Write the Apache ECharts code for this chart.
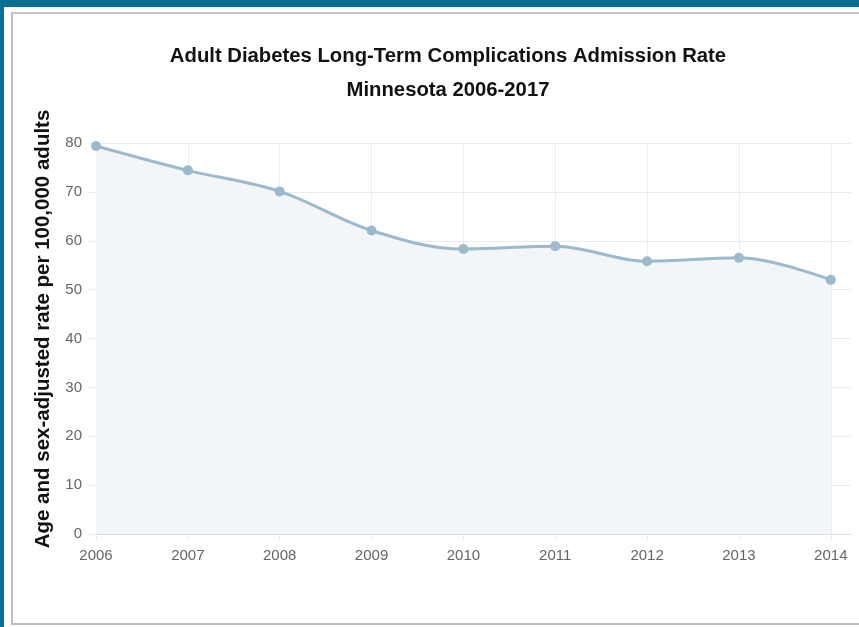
<!DOCTYPE html>
<html>
<head>
<meta charset="utf-8">
<script src="https://cdn.jsdelivr.net/npm/echarts@6/dist/echarts.min.js"></script>
<style>
  html, body { margin: 0; padding: 0; width: 859px; height: 627px; overflow: hidden; background: #05708f; }
  .panel { position: absolute; left: 4px; top: 7px; right: 0; bottom: 0; background: #fff; }
  .frame { position: absolute; left: 11px; top: 12px; width: 900px; height: 609px;
           border-left: 2px solid #bdbdbd; border-top: 2px solid #c4c4c4; border-bottom: 2px solid #bdbdbd; }
  #chart { position: absolute; left: 0; top: 0; width: 859px; height: 627px; }
</style>
</head>
<body>
<div class="panel"></div>
<div class="frame"></div>
<div id="chart"></div>
<script>
  // data
  const years = [2006, 2007, 2008, 2009, 2010, 2011, 2012, 2013, 2014];
  const rates = [79.4, 74.4, 70.1, 62.1, 58.3, 58.9, 55.8, 56.5, 52.0];
  const yTicks = [0, 10, 20, 30, 40, 50, 60, 70, 80];

  const titleLines = [
    'Adult Diabetes Long-Term Complications Admission Rate',
    'Minnesota 2006-2017'
  ];
  const yName = 'Age and sex-adjusted rate per 100,000 adults';

  let font = "'Liberation Sans', Arial, Helvetica, sans-serif";
  let gridColor = '#ebebeb';
  let lineColor = '#9bbace';

  let chart = echarts.init(document.getElementById('chart'));

  let points = years.map((y, i) => [y, rates[i]]);

  let option = {
    backgroundColor: 'transparent',
    animation: false,
    title: {
      text: titleLines.join('\n'),
      left: 443,
      top: 34,
      textAlign: 'center',
      textStyle: {
        fontFamily: font,
        fontSize: 20.3,
        fontWeight: 'bold',
        color: '#111',
        lineHeight: 34
      }
    },
    grid: {
      left: 96,
      right: 8,
      top: 143,
      bottom: 93,
      containLabel: false
    },
    xAxis: {
      type: 'value',
      min: years[0],
      max: years[years.length - 1] + 0.22,
      interval: 1,
      axisLine: { show: true, lineStyle: { color: '#dcdcdc', width: 1 } },
      axisTick: {
        show: true, length: 6, customValues: years,
        lineStyle: { color: gridColor }
      },
      axisLabel: {
        customValues: years,
        margin: 14,
        color: '#666',
        fontSize: 15,
        fontFamily: font,
        formatter: v => String(v)
      },
      splitLine: {
        show: true,
        lineStyle: { color: gridColor, width: 1 }
      }
    },
    yAxis: {
      type: 'value',
      min: yTicks[0],
      max: yTicks[yTicks.length - 1],
      interval: 10,
      name: yName,
      nameLocation: 'middle',
      nameGap: 42,
      nameTextStyle: {
        fontFamily: font,
        fontSize: 20.5,
        fontWeight: 'bold',
        color: '#111',
        padding: [0, 0, 0, 19]
      },
      axisLine: { show: true, lineStyle: { color: gridColor } },
      axisTick: { show: true, length: 7, lineStyle: { color: gridColor } },
      axisLabel: {
        margin: 14,
        color: '#666',
        fontSize: 15,
        fontFamily: font
      },
      splitLine: { show: true, lineStyle: { color: gridColor, width: 1 } }
    },
    series: [
      {
        type: 'line',
        data: points,
        smooth: 0.35,
        symbol: 'circle',
        symbolSize: 10,
        itemStyle: { color: lineColor },
        lineStyle: { color: lineColor, width: 3 },
        areaStyle: { color: '#f2f6f8', opacity: 1 }
      }
    ]
  };

  chart.setOption(option);
</script>
</body>
</html>
